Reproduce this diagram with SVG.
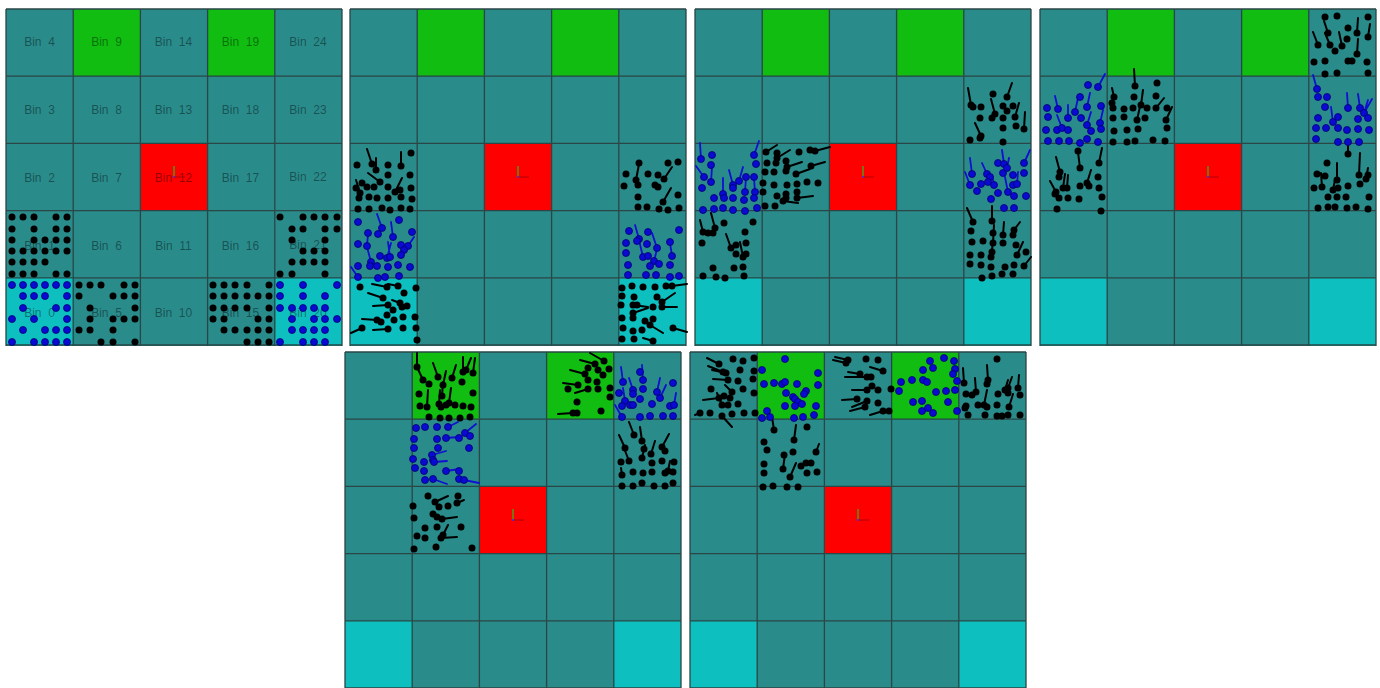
<svg xmlns="http://www.w3.org/2000/svg" xmlns:xlink="http://www.w3.org/1999/xlink" width="1380" height="688" viewBox="0 0 1380 688">
<style>
.bg{fill:#2a8b8b}
.gr{fill:#10bd10}
.rd{fill:#ff0000}
.cy{fill:#0ebfbf}
.grid{fill:none;stroke:#2a4646;stroke-width:1.3}
.k circle{fill:#000}
.b circle{fill:#0a0ad2;stroke:#00006e;stroke-width:.8}
.tk{stroke:#000;stroke-width:2;fill:none;stroke-linecap:round}
.tb{stroke:#1010d0;stroke-width:1.8;fill:none;stroke-linecap:round}
.lbl{font-family:"Liberation Sans",Arial,sans-serif;font-size:12px;fill:#000;fill-opacity:.42;text-anchor:middle;dominant-baseline:central}
</style>
<defs>
<g id="board">
<rect class="bg" x="0" y="0" width="336" height="337"/>
<rect class="gr" x="67.2" y="0" width="67.2" height="67.2"/>
<rect class="gr" x="201.6" y="0" width="67.2" height="67.2"/>
<rect class="rd" x="134.4" y="134.4" width="67.2" height="67.2"/>
<rect class="cy" x="0" y="268.8" width="67.2" height="68.2"/>
<rect class="cy" x="268.8" y="268.8" width="67.2" height="68.2"/>
<path class="grid" d="M0 0V337M67.2 0V337M134.4 0V337M201.6 0V337M268.8 0V337M336 0V337M0 0H336M0 67.2H336M0 134.4H336M0 201.6H336M0 268.8H336M0 336H336"/>
<path d="M168 157V168" stroke="#20c020" stroke-width="1.2"/>
<path d="M168 168H179" stroke="#b00000" stroke-width="1"/>
<circle cx="168" cy="168" r="0.9" fill="#3030ff"/>
</g>
</defs>
<rect width="1380" height="688" fill="#fff"/>

<g id="panel-1">
<use xlink:href="#board" href="#board" transform="translate(6,9)"/>
<g class="lbl">
<text x="39.5" y="42">Bin&#160;&#160;4</text><text x="106.5" y="42">Bin&#160;&#160;9</text><text x="173.5" y="42">Bin&#160;&#160;14</text><text x="240.5" y="42">Bin&#160;&#160;19</text><text x="308" y="42">Bin&#160;&#160;24</text>
<text x="39.5" y="110">Bin&#160;&#160;3</text><text x="106.5" y="110">Bin&#160;&#160;8</text><text x="173.5" y="110">Bin&#160;&#160;13</text><text x="240.5" y="110">Bin&#160;&#160;18</text><text x="308" y="110">Bin&#160;&#160;23</text>
<text x="39.5" y="178">Bin&#160;&#160;2</text><text x="106.5" y="178">Bin&#160;&#160;7</text><text x="173.5" y="178">Bin&#160;&#160;12</text><text x="240.5" y="178">Bin&#160;&#160;17</text><text x="308" y="177">Bin&#160;&#160;22</text>
<text x="39.5" y="245.5">Bin&#160;&#160;1</text><text x="106.5" y="245.5">Bin&#160;&#160;6</text><text x="173.5" y="245.5">Bin&#160;&#160;11</text><text x="240.5" y="245.5">Bin&#160;&#160;16</text><text x="308" y="245">Bin&#160;&#160;21</text>
<text x="39.5" y="313">Bin&#160;&#160;0</text><text x="106.5" y="313">Bin&#160;&#160;5</text><text x="173.5" y="313">Bin&#160;&#160;10</text><text x="240.5" y="313">Bin&#160;&#160;15</text><text x="308" y="313">Bin&#160;&#160;20</text>
</g>
<g class="k">
<circle cx="12" cy="217" r="3.5"/><circle cx="23" cy="217" r="3.5"/><circle cx="34" cy="217" r="3.5"/><circle cx="56" cy="217" r="3.5"/><circle cx="67" cy="217" r="3.5"/>
<circle cx="12" cy="229" r="3.5"/><circle cx="34" cy="229" r="3.5"/><circle cx="56" cy="229" r="3.5"/><circle cx="67" cy="229" r="3.5"/>
<circle cx="12" cy="240" r="3.5"/><circle cx="34" cy="240" r="3.5"/><circle cx="45" cy="240" r="3.5"/><circle cx="56" cy="240" r="3.5"/><circle cx="67" cy="240" r="3.5"/>
<circle cx="12" cy="251" r="3.5"/><circle cx="23" cy="251" r="3.5"/><circle cx="34" cy="251" r="3.5"/><circle cx="45" cy="251" r="3.5"/><circle cx="56" cy="251" r="3.5"/><circle cx="67" cy="251" r="3.5"/>
<circle cx="12" cy="262" r="3.5"/><circle cx="23" cy="262" r="3.5"/><circle cx="34" cy="262" r="3.5"/><circle cx="45" cy="262" r="3.5"/>
<circle cx="12" cy="274" r="3.5"/><circle cx="23" cy="274" r="3.5"/><circle cx="34" cy="274" r="3.5"/><circle cx="56" cy="274" r="3.5"/><circle cx="67" cy="274" r="3.5"/>
<circle cx="79" cy="285" r="3.5"/><circle cx="90" cy="285" r="3.5"/><circle cx="101" cy="285" r="3.5"/><circle cx="124" cy="285" r="3.5"/><circle cx="135" cy="285" r="3.5"/>
<circle cx="79" cy="296" r="3.5"/><circle cx="113" cy="296" r="3.5"/><circle cx="124" cy="296" r="3.5"/><circle cx="135" cy="296" r="3.5"/>
<circle cx="90" cy="308" r="3.5"/><circle cx="135" cy="308" r="3.5"/>
<circle cx="90" cy="319" r="3.5"/><circle cx="113" cy="319" r="3.5"/><circle cx="124" cy="319" r="3.5"/><circle cx="135" cy="319" r="3.5"/>
<circle cx="79" cy="330" r="3.5"/><circle cx="90" cy="330" r="3.5"/><circle cx="113" cy="330" r="3.5"/>
<circle cx="101" cy="342" r="3.5"/><circle cx="113" cy="342" r="3.5"/><circle cx="135" cy="342" r="3.5"/>
<circle cx="213" cy="285" r="3.5"/><circle cx="224" cy="285" r="3.5"/><circle cx="235" cy="285" r="3.5"/><circle cx="247" cy="285" r="3.5"/><circle cx="269" cy="285" r="3.5"/>
<circle cx="213" cy="296" r="3.5"/><circle cx="224" cy="296" r="3.5"/><circle cx="235" cy="296" r="3.5"/><circle cx="247" cy="296" r="3.5"/><circle cx="258" cy="296" r="3.5"/><circle cx="269" cy="296" r="3.5"/>
<circle cx="213" cy="308" r="3.5"/><circle cx="224" cy="308" r="3.5"/><circle cx="235" cy="308" r="3.5"/><circle cx="247" cy="308" r="3.5"/><circle cx="269" cy="308" r="3.5"/>
<circle cx="213" cy="319" r="3.5"/><circle cx="224" cy="319" r="3.5"/><circle cx="258" cy="319" r="3.5"/><circle cx="269" cy="319" r="3.5"/>
<circle cx="224" cy="330" r="3.5"/><circle cx="235" cy="330" r="3.5"/><circle cx="247" cy="330" r="3.5"/><circle cx="258" cy="330" r="3.5"/><circle cx="269" cy="330" r="3.5"/>
<circle cx="247" cy="342" r="3.5"/><circle cx="258" cy="342" r="3.5"/><circle cx="269" cy="342" r="3.5"/>
<circle cx="280" cy="217" r="3.5"/><circle cx="303" cy="217" r="3.5"/><circle cx="314" cy="217" r="3.5"/><circle cx="325" cy="217" r="3.5"/><circle cx="337" cy="217" r="3.5"/>
<circle cx="292" cy="229" r="3.5"/><circle cx="303" cy="229" r="3.5"/><circle cx="325" cy="229" r="3.5"/><circle cx="337" cy="229" r="3.5"/>
<circle cx="292" cy="240" r="3.5"/><circle cx="325" cy="240" r="3.5"/>
<circle cx="303" cy="251" r="3.5"/><circle cx="314" cy="251" r="3.5"/><circle cx="325" cy="251" r="3.5"/>
<circle cx="292" cy="262" r="3.5"/><circle cx="303" cy="262" r="3.5"/><circle cx="314" cy="262" r="3.5"/><circle cx="325" cy="262" r="3.5"/>
<circle cx="280" cy="274" r="3.5"/><circle cx="292" cy="274" r="3.5"/><circle cx="325" cy="274" r="3.5"/>
</g>
<g class="b">
<circle cx="12" cy="285" r="3.5"/><circle cx="23" cy="285" r="3.5"/><circle cx="34" cy="285" r="3.5"/><circle cx="45" cy="285" r="3.5"/><circle cx="56" cy="285" r="3.5"/><circle cx="67" cy="285" r="3.5"/>
<circle cx="23" cy="296" r="3.5"/><circle cx="34" cy="296" r="3.5"/><circle cx="45" cy="296" r="3.5"/><circle cx="67" cy="296" r="3.5"/>
<circle cx="23" cy="308" r="3.5"/><circle cx="56" cy="308" r="3.5"/><circle cx="67" cy="308" r="3.5"/>
<circle cx="12" cy="319" r="3.5"/><circle cx="34" cy="319" r="3.5"/><circle cx="67" cy="319" r="3.5"/>
<circle cx="23" cy="330" r="3.5"/><circle cx="45" cy="330" r="3.5"/><circle cx="56" cy="330" r="3.5"/><circle cx="67" cy="330" r="3.5"/>
<circle cx="12" cy="342" r="3.5"/><circle cx="34" cy="342" r="3.5"/><circle cx="45" cy="342" r="3.5"/><circle cx="56" cy="342" r="3.5"/><circle cx="67" cy="342" r="3.5"/>
<circle cx="280" cy="285" r="3.5"/><circle cx="303" cy="285" r="3.5"/><circle cx="337" cy="285" r="3.5"/>
<circle cx="280" cy="296" r="3.5"/><circle cx="303" cy="296" r="3.5"/><circle cx="325" cy="296" r="3.5"/>
<circle cx="280" cy="308" r="3.5"/><circle cx="292" cy="308" r="3.5"/><circle cx="303" cy="308" r="3.5"/><circle cx="314" cy="308" r="3.5"/><circle cx="325" cy="308" r="3.5"/>
<circle cx="292" cy="319" r="3.5"/><circle cx="314" cy="319" r="3.5"/><circle cx="325" cy="319" r="3.5"/><circle cx="337" cy="319" r="3.5"/>
<circle cx="292" cy="330" r="3.5"/><circle cx="303" cy="330" r="3.5"/><circle cx="314" cy="330" r="3.5"/><circle cx="325" cy="330" r="3.5"/>
<circle cx="280" cy="342" r="3.5"/><circle cx="303" cy="342" r="3.5"/><circle cx="314" cy="342" r="3.5"/><circle cx="325" cy="342" r="3.5"/>
</g>
</g>

<g id="panel-2">
<use xlink:href="#board" href="#board" transform="translate(350,9)"/>
<path class="tk" d="M372 164L367 149M401 166L401 152M376 170L376 158M380 182L368 173M395 192L402 178M360 193L356 180M387 287L372 284M398 286L388 284M383 298L368 293M388 305L373 306M400 303L392 300M377 320L362 319M388 329L373 330M362 328L351 333M636 180L639 164M664 179L672 167M663 202L671 188M672 286L687 284M662 302L675 293M633 305L648 307M662 307L677 307M633 313L648 308M650 325L663 333M673 328L687 332M653 341L643 338"/>
<path class="tb" d="M382 228L377 214M393 237L391 222M408 246L414 237M390 257L388 242M387 258L391 243M371 262L367 247M358 277L351 267M367 246L368 234M639 239L635 225M657 248L652 233M672 256L670 243M643 257L639 240M654 261L657 249"/>
<g class="k">
<circle cx="411" cy="153" r="3.5"/><circle cx="357" cy="165" r="3.5"/><circle cx="372" cy="164" r="3.5"/><circle cx="388" cy="165" r="3.5"/><circle cx="401" cy="166" r="3.5"/><circle cx="376" cy="170" r="3.5"/><circle cx="388" cy="175" r="3.5"/><circle cx="410" cy="175" r="3.5"/><circle cx="380" cy="182" r="3.5"/><circle cx="362" cy="183" r="3.5"/><circle cx="356" cy="188" r="3.5"/><circle cx="367" cy="187" r="3.5"/><circle cx="374" cy="187" r="3.5"/><circle cx="388" cy="187" r="3.5"/><circle cx="395" cy="192" r="3.5"/><circle cx="400" cy="190" r="3.5"/><circle cx="411" cy="188" r="3.5"/><circle cx="359" cy="198" r="3.5"/><circle cx="369" cy="197" r="3.5"/><circle cx="377" cy="198" r="3.5"/><circle cx="388" cy="198" r="3.5"/><circle cx="401" cy="197" r="3.5"/><circle cx="412" cy="199" r="3.5"/><circle cx="358" cy="209" r="3.5"/><circle cx="369" cy="209" r="3.5"/><circle cx="382" cy="208" r="3.5"/><circle cx="390" cy="210" r="3.5"/><circle cx="401" cy="208" r="3.5"/><circle cx="410" cy="209" r="3.5"/><circle cx="360" cy="193" r="3.5"/>
<circle cx="360" cy="287" r="3.5"/><circle cx="387" cy="287" r="3.5"/><circle cx="398" cy="286" r="3.5"/><circle cx="416" cy="288" r="3.5"/><circle cx="404" cy="293" r="3.5"/><circle cx="383" cy="298" r="3.5"/><circle cx="388" cy="305" r="3.5"/><circle cx="400" cy="303" r="3.5"/><circle cx="402" cy="307" r="3.5"/><circle cx="407" cy="306" r="3.5"/><circle cx="393" cy="310" r="3.5"/><circle cx="387" cy="315" r="3.5"/><circle cx="415" cy="317" r="3.5"/><circle cx="403" cy="317" r="3.5"/><circle cx="394" cy="320" r="3.5"/><circle cx="377" cy="320" r="3.5"/><circle cx="381" cy="322" r="3.5"/><circle cx="403" cy="328" r="3.5"/><circle cx="388" cy="329" r="3.5"/><circle cx="416" cy="328" r="3.5"/><circle cx="362" cy="328" r="3.5"/><circle cx="417" cy="340" r="3.5"/>
<circle cx="678" cy="162" r="3.5"/><circle cx="639" cy="163" r="3.5"/><circle cx="668" cy="163" r="3.5"/><circle cx="626" cy="174" r="3.5"/><circle cx="648" cy="174" r="3.5"/><circle cx="658" cy="175" r="3.5"/><circle cx="664" cy="179" r="3.5"/><circle cx="636" cy="180" r="3.5"/><circle cx="624" cy="186" r="3.5"/><circle cx="638" cy="185" r="3.5"/><circle cx="655" cy="185" r="3.5"/><circle cx="658" cy="187" r="3.5"/><circle cx="638" cy="197" r="3.5"/><circle cx="678" cy="195" r="3.5"/><circle cx="663" cy="202" r="3.5"/><circle cx="638" cy="207" r="3.5"/><circle cx="647" cy="207" r="3.5"/><circle cx="659" cy="209" r="3.5"/><circle cx="668" cy="210" r="3.5"/><circle cx="679" cy="208" r="3.5"/>
<circle cx="622" cy="288" r="3.5"/><circle cx="632" cy="286" r="3.5"/><circle cx="643" cy="287" r="3.5"/><circle cx="655" cy="287" r="3.5"/><circle cx="666" cy="286" r="3.5"/><circle cx="672" cy="286" r="3.5"/><circle cx="622" cy="296" r="3.5"/><circle cx="634" cy="297" r="3.5"/><circle cx="657" cy="297" r="3.5"/><circle cx="662" cy="302" r="3.5"/><circle cx="621" cy="305" r="3.5"/><circle cx="633" cy="305" r="3.5"/><circle cx="637" cy="305" r="3.5"/><circle cx="653" cy="307" r="3.5"/><circle cx="662" cy="307" r="3.5"/><circle cx="633" cy="313" r="3.5"/><circle cx="622" cy="318" r="3.5"/><circle cx="633" cy="318" r="3.5"/><circle cx="645" cy="321" r="3.5"/><circle cx="653" cy="319" r="3.5"/><circle cx="623" cy="328" r="3.5"/><circle cx="633" cy="331" r="3.5"/><circle cx="642" cy="330" r="3.5"/><circle cx="650" cy="325" r="3.5"/><circle cx="673" cy="328" r="3.5"/><circle cx="622" cy="339" r="3.5"/><circle cx="634" cy="339" r="3.5"/><circle cx="653" cy="341" r="3.5"/>
</g>
<g class="b">
<circle cx="358" cy="222" r="3.5"/><circle cx="399" cy="220" r="3.5"/><circle cx="382" cy="228" r="3.5"/><circle cx="368" cy="233" r="3.5"/><circle cx="378" cy="234" r="3.5"/><circle cx="393" cy="237" r="3.5"/><circle cx="412" cy="232" r="3.5"/><circle cx="358" cy="244" r="3.5"/><circle cx="367" cy="246" r="3.5"/><circle cx="401" cy="245" r="3.5"/><circle cx="408" cy="246" r="3.5"/><circle cx="404" cy="250" r="3.5"/><circle cx="401" cy="255" r="3.5"/><circle cx="380" cy="256" r="3.5"/><circle cx="387" cy="258" r="3.5"/><circle cx="390" cy="257" r="3.5"/><circle cx="371" cy="262" r="3.5"/><circle cx="358" cy="266" r="3.5"/><circle cx="370" cy="266" r="3.5"/><circle cx="377" cy="266" r="3.5"/><circle cx="388" cy="267" r="3.5"/><circle cx="398" cy="265" r="3.5"/><circle cx="410" cy="267" r="3.5"/><circle cx="358" cy="277" r="3.5"/><circle cx="378" cy="278" r="3.5"/><circle cx="385" cy="277" r="3.5"/><circle cx="399" cy="276" r="3.5"/>
<circle cx="679" cy="230" r="3.5"/><circle cx="629" cy="231" r="3.5"/><circle cx="639" cy="239" r="3.5"/><circle cx="648" cy="232" r="3.5"/><circle cx="637" cy="241" r="3.5"/><circle cx="626" cy="243" r="3.5"/><circle cx="647" cy="244" r="3.5"/><circle cx="657" cy="248" r="3.5"/><circle cx="670" cy="242" r="3.5"/><circle cx="672" cy="256" r="3.5"/><circle cx="626" cy="253" r="3.5"/><circle cx="643" cy="257" r="3.5"/><circle cx="648" cy="256" r="3.5"/><circle cx="654" cy="261" r="3.5"/><circle cx="659" cy="264" r="3.5"/><circle cx="650" cy="266" r="3.5"/><circle cx="628" cy="265" r="3.5"/><circle cx="670" cy="265" r="3.5"/><circle cx="628" cy="275" r="3.5"/><circle cx="646" cy="275" r="3.5"/><circle cx="656" cy="275" r="3.5"/><circle cx="670" cy="277" r="3.5"/><circle cx="679" cy="276" r="3.5"/>
</g>
</g>

<g id="panel-3">
<use xlink:href="#board" href="#board" transform="translate(695,9)"/>
<path class="tk" d="M766 152L777 145M777 158L790 150M815 151L830 147M787 167L802 162M796 174L810 169M811 166L825 162M797 198L813 196M783 201L798 203M703 232L700 220M715 228L711 213M731 248L726 234M743 257L740 242M971 105L968 88M1007 97L1012 83M995 114L991 99M1024 129L1025 112M981 136L975 123M1015 117L1019 103M973 222L967 208M992 221L992 206M1003 235L1004 222M1014 230L1020 222M993 243L994 225M1017 255L1023 242M991 257L993 242M1024 266L1031 257"/>
<path class="tb" d="M701 159L700 143M754 155L759 141M704 177L696 166M711 182L712 167M733 185L729 170M739 181L743 167M745 192L746 177M755 192L754 178M723 194L723 178M1024 163L1030 150M1004 164L1002 150M972 174L970 158M987 174L982 163M1007 168L1009 158M970 185L965 172M994 185L992 175M1008 192L1005 177M1017 184L1018 172"/>
<g class="k">
<circle cx="766" cy="152" r="3.5"/><circle cx="777" cy="153" r="3.5"/><circle cx="777" cy="158" r="3.5"/><circle cx="799" cy="152" r="3.5"/><circle cx="810" cy="150" r="3.5"/><circle cx="815" cy="151" r="3.5"/><circle cx="767" cy="163" r="3.5"/><circle cx="776" cy="163" r="3.5"/><circle cx="786" cy="161" r="3.5"/><circle cx="787" cy="167" r="3.5"/><circle cx="765" cy="172" r="3.5"/><circle cx="774" cy="172" r="3.5"/><circle cx="786" cy="171" r="3.5"/><circle cx="796" cy="174" r="3.5"/><circle cx="811" cy="166" r="3.5"/><circle cx="763" cy="183" r="3.5"/><circle cx="774" cy="185" r="3.5"/><circle cx="787" cy="185" r="3.5"/><circle cx="797" cy="184" r="3.5"/><circle cx="807" cy="182" r="3.5"/><circle cx="818" cy="183" r="3.5"/><circle cx="763" cy="192" r="3.5"/><circle cx="777" cy="196" r="3.5"/><circle cx="786" cy="194" r="3.5"/><circle cx="797" cy="192" r="3.5"/><circle cx="797" cy="198" r="3.5"/><circle cx="786" cy="198" r="3.5"/><circle cx="783" cy="201" r="3.5"/><circle cx="765" cy="206" r="3.5"/><circle cx="775" cy="206" r="3.5"/>
<circle cx="703" cy="232" r="3.5"/><circle cx="708" cy="233" r="3.5"/><circle cx="713" cy="233" r="3.5"/><circle cx="715" cy="228" r="3.5"/><circle cx="724" cy="223" r="3.5"/><circle cx="753" cy="222" r="3.5"/><circle cx="745" cy="232" r="3.5"/><circle cx="702" cy="243" r="3.5"/><circle cx="731" cy="248" r="3.5"/><circle cx="736" cy="245" r="3.5"/><circle cx="746" cy="243" r="3.5"/><circle cx="736" cy="254" r="3.5"/><circle cx="743" cy="257" r="3.5"/><circle cx="746" cy="254" r="3.5"/><circle cx="713" cy="268" r="3.5"/><circle cx="734" cy="268" r="3.5"/><circle cx="743" cy="267" r="3.5"/><circle cx="703" cy="276" r="3.5"/><circle cx="716" cy="277" r="3.5"/><circle cx="725" cy="278" r="3.5"/><circle cx="744" cy="276" r="3.5"/>
<circle cx="971" cy="105" r="3.5"/><circle cx="973" cy="107" r="3.5"/><circle cx="981" cy="107" r="3.5"/><circle cx="993" cy="94" r="3.5"/><circle cx="1007" cy="97" r="3.5"/><circle cx="1003" cy="106" r="3.5"/><circle cx="1013" cy="106" r="3.5"/><circle cx="995" cy="114" r="3.5"/><circle cx="992" cy="118" r="3.5"/><circle cx="1007" cy="111" r="3.5"/><circle cx="1003" cy="118" r="3.5"/><circle cx="980" cy="118" r="3.5"/><circle cx="1015" cy="117" r="3.5"/><circle cx="1024" cy="129" r="3.5"/><circle cx="1016" cy="126" r="3.5"/><circle cx="1003" cy="128" r="3.5"/><circle cx="981" cy="136" r="3.5"/><circle cx="980" cy="138" r="3.5"/><circle cx="970" cy="140" r="3.5"/><circle cx="1003" cy="142" r="3.5"/>
<circle cx="973" cy="222" r="3.5"/><circle cx="992" cy="221" r="3.5"/><circle cx="971" cy="231" r="3.5"/><circle cx="993" cy="233" r="3.5"/><circle cx="1003" cy="235" r="3.5"/><circle cx="1014" cy="230" r="3.5"/><circle cx="1013" cy="235" r="3.5"/><circle cx="972" cy="242" r="3.5"/><circle cx="983" cy="241" r="3.5"/><circle cx="993" cy="243" r="3.5"/><circle cx="1003" cy="243" r="3.5"/><circle cx="1016" cy="245" r="3.5"/><circle cx="1017" cy="255" r="3.5"/><circle cx="1026" cy="252" r="3.5"/><circle cx="970" cy="255" r="3.5"/><circle cx="981" cy="255" r="3.5"/><circle cx="991" cy="257" r="3.5"/><circle cx="992" cy="252" r="3.5"/><circle cx="970" cy="264" r="3.5"/><circle cx="981" cy="265" r="3.5"/><circle cx="991" cy="267" r="3.5"/><circle cx="1005" cy="267" r="3.5"/><circle cx="1014" cy="265" r="3.5"/><circle cx="1024" cy="266" r="3.5"/><circle cx="982" cy="278" r="3.5"/><circle cx="992" cy="276" r="3.5"/><circle cx="1002" cy="274" r="3.5"/><circle cx="1013" cy="274" r="3.5"/>
</g>
<g class="b">
<circle cx="701" cy="159" r="3.5"/><circle cx="712" cy="155" r="3.5"/><circle cx="711" cy="165" r="3.5"/><circle cx="754" cy="155" r="3.5"/><circle cx="756" cy="164" r="3.5"/><circle cx="704" cy="177" r="3.5"/><circle cx="711" cy="182" r="3.5"/><circle cx="733" cy="185" r="3.5"/><circle cx="739" cy="181" r="3.5"/><circle cx="746" cy="177" r="3.5"/><circle cx="754" cy="177" r="3.5"/><circle cx="702" cy="188" r="3.5"/><circle cx="733" cy="188" r="3.5"/><circle cx="745" cy="192" r="3.5"/><circle cx="755" cy="192" r="3.5"/><circle cx="723" cy="194" r="3.5"/><circle cx="714" cy="198" r="3.5"/><circle cx="724" cy="198" r="3.5"/><circle cx="733" cy="198" r="3.5"/><circle cx="744" cy="200" r="3.5"/><circle cx="754" cy="198" r="3.5"/><circle cx="703" cy="210" r="3.5"/><circle cx="714" cy="209" r="3.5"/><circle cx="723" cy="208" r="3.5"/><circle cx="733" cy="210" r="3.5"/><circle cx="745" cy="211" r="3.5"/><circle cx="757" cy="208" r="3.5"/>
<circle cx="998" cy="163" r="3.5"/><circle cx="1024" cy="163" r="3.5"/><circle cx="1004" cy="164" r="3.5"/><circle cx="972" cy="174" r="3.5"/><circle cx="987" cy="174" r="3.5"/><circle cx="990" cy="177" r="3.5"/><circle cx="988" cy="182" r="3.5"/><circle cx="1003" cy="173" r="3.5"/><circle cx="1007" cy="168" r="3.5"/><circle cx="1013" cy="175" r="3.5"/><circle cx="1024" cy="173" r="3.5"/><circle cx="970" cy="185" r="3.5"/><circle cx="977" cy="191" r="3.5"/><circle cx="981" cy="184" r="3.5"/><circle cx="994" cy="185" r="3.5"/><circle cx="998" cy="193" r="3.5"/><circle cx="1008" cy="192" r="3.5"/><circle cx="1013" cy="185" r="3.5"/><circle cx="1017" cy="184" r="3.5"/><circle cx="1014" cy="196" r="3.5"/><circle cx="1026" cy="196" r="3.5"/><circle cx="991" cy="199" r="3.5"/><circle cx="1004" cy="208" r="3.5"/><circle cx="1014" cy="208" r="3.5"/>
</g>
</g>

<g id="panel-4">
<use xlink:href="#board" href="#board" transform="translate(1040,9)"/>
<path class="tk" d="M1135 86L1134 69M1114 97L1112 88M1141 105L1143 90M1156 108L1164 98M1137 120L1141 102M1166 120L1172 107M1080 168L1078 152M1099 163L1102 148M1060 172L1056 157M1087 183L1091 170M1067 188L1068 175M1063 188L1065 174M1056 192L1050 181M1328 33L1324 21M1357 33L1358 18M1368 37L1370 24M1318 45L1313 32M1330 45L1325 33M1342 46L1339 32M1357 54L1358 39M1348 154L1348 143M1322 187L1321 173M1337 180L1337 163M1359 175L1360 153M1366 179L1368 168M1333 190L1335 180"/>
<path class="tb" d="M1098 87L1105 74M1075 112L1078 98M1058 109L1055 96M1068 118L1068 105M1087 107L1090 93M1087 125L1091 112M1100 123L1103 110M1062 128L1057 115M1317 89L1313 75M1348 108L1347 93M1360 108L1358 94M1364 113L1372 99M1333 122L1331 107M1364 113L1368 100"/>
<g class="k">
<circle cx="1135" cy="86" r="3.5"/><circle cx="1157" cy="83" r="3.5"/><circle cx="1114" cy="97" r="3.5"/><circle cx="1134" cy="97" r="3.5"/><circle cx="1156" cy="96" r="3.5"/><circle cx="1112" cy="103" r="3.5"/><circle cx="1113" cy="108" r="3.5"/><circle cx="1124" cy="109" r="3.5"/><circle cx="1133" cy="108" r="3.5"/><circle cx="1141" cy="105" r="3.5"/><circle cx="1147" cy="108" r="3.5"/><circle cx="1156" cy="108" r="3.5"/><circle cx="1167" cy="108" r="3.5"/><circle cx="1113" cy="118" r="3.5"/><circle cx="1124" cy="117" r="3.5"/><circle cx="1137" cy="120" r="3.5"/><circle cx="1145" cy="118" r="3.5"/><circle cx="1166" cy="120" r="3.5"/><circle cx="1114" cy="131" r="3.5"/><circle cx="1127" cy="130" r="3.5"/><circle cx="1138" cy="129" r="3.5"/><circle cx="1167" cy="128" r="3.5"/><circle cx="1113" cy="142" r="3.5"/><circle cx="1127" cy="142" r="3.5"/><circle cx="1135" cy="141" r="3.5"/><circle cx="1153" cy="140" r="3.5"/><circle cx="1165" cy="141" r="3.5"/>
<circle cx="1078" cy="151" r="3.5"/><circle cx="1080" cy="168" r="3.5"/><circle cx="1099" cy="163" r="3.5"/><circle cx="1060" cy="172" r="3.5"/><circle cx="1059" cy="177" r="3.5"/><circle cx="1098" cy="177" r="3.5"/><circle cx="1087" cy="183" r="3.5"/><circle cx="1089" cy="186" r="3.5"/><circle cx="1080" cy="186" r="3.5"/><circle cx="1067" cy="188" r="3.5"/><circle cx="1063" cy="188" r="3.5"/><circle cx="1056" cy="192" r="3.5"/><circle cx="1055" cy="194" r="3.5"/><circle cx="1099" cy="188" r="3.5"/><circle cx="1059" cy="198" r="3.5"/><circle cx="1068" cy="198" r="3.5"/><circle cx="1079" cy="199" r="3.5"/><circle cx="1102" cy="197" r="3.5"/><circle cx="1057" cy="209" r="3.5"/><circle cx="1101" cy="211" r="3.5"/>
<circle cx="1325" cy="17" r="3.5"/><circle cx="1337" cy="16" r="3.5"/><circle cx="1368" cy="17" r="3.5"/><circle cx="1328" cy="33" r="3.5"/><circle cx="1348" cy="28" r="3.5"/><circle cx="1357" cy="33" r="3.5"/><circle cx="1368" cy="37" r="3.5"/><circle cx="1318" cy="45" r="3.5"/><circle cx="1330" cy="45" r="3.5"/><circle cx="1342" cy="46" r="3.5"/><circle cx="1347" cy="39" r="3.5"/><circle cx="1335" cy="51" r="3.5"/><circle cx="1357" cy="54" r="3.5"/><circle cx="1314" cy="62" r="3.5"/><circle cx="1325" cy="61" r="3.5"/><circle cx="1348" cy="61" r="3.5"/><circle cx="1352" cy="61" r="3.5"/><circle cx="1367" cy="62" r="3.5"/><circle cx="1325" cy="74" r="3.5"/><circle cx="1337" cy="73" r="3.5"/><circle cx="1368" cy="73" r="3.5"/>
<circle cx="1348" cy="154" r="3.5"/><circle cx="1327" cy="163" r="3.5"/><circle cx="1317" cy="174" r="3.5"/><circle cx="1325" cy="176" r="3.5"/><circle cx="1322" cy="187" r="3.5"/><circle cx="1337" cy="180" r="3.5"/><circle cx="1348" cy="186" r="3.5"/><circle cx="1359" cy="175" r="3.5"/><circle cx="1360" cy="184" r="3.5"/><circle cx="1366" cy="179" r="3.5"/><circle cx="1368" cy="175" r="3.5"/><circle cx="1314" cy="188" r="3.5"/><circle cx="1333" cy="190" r="3.5"/><circle cx="1338" cy="188" r="3.5"/><circle cx="1328" cy="197" r="3.5"/><circle cx="1337" cy="197" r="3.5"/><circle cx="1346" cy="197" r="3.5"/><circle cx="1369" cy="197" r="3.5"/><circle cx="1318" cy="208" r="3.5"/><circle cx="1328" cy="207" r="3.5"/><circle cx="1335" cy="207" r="3.5"/><circle cx="1347" cy="208" r="3.5"/><circle cx="1356" cy="207" r="3.5"/><circle cx="1368" cy="209" r="3.5"/>
</g>
<g class="b">
<circle cx="1088" cy="85" r="3.5"/><circle cx="1098" cy="87" r="3.5"/><circle cx="1080" cy="97" r="3.5"/><circle cx="1075" cy="112" r="3.5"/><circle cx="1047" cy="108" r="3.5"/><circle cx="1058" cy="109" r="3.5"/><circle cx="1068" cy="118" r="3.5"/><circle cx="1087" cy="107" r="3.5"/><circle cx="1101" cy="106" r="3.5"/><circle cx="1048" cy="117" r="3.5"/><circle cx="1081" cy="118" r="3.5"/><circle cx="1087" cy="125" r="3.5"/><circle cx="1100" cy="123" r="3.5"/><circle cx="1046" cy="130" r="3.5"/><circle cx="1057" cy="130" r="3.5"/><circle cx="1062" cy="128" r="3.5"/><circle cx="1068" cy="130" r="3.5"/><circle cx="1091" cy="131" r="3.5"/><circle cx="1101" cy="129" r="3.5"/><circle cx="1048" cy="141" r="3.5"/><circle cx="1059" cy="141" r="3.5"/><circle cx="1069" cy="141" r="3.5"/><circle cx="1080" cy="143" r="3.5"/><circle cx="1087" cy="139" r="3.5"/><circle cx="1098" cy="142" r="3.5"/>
<circle cx="1317" cy="89" r="3.5"/><circle cx="1318" cy="97" r="3.5"/><circle cx="1327" cy="97" r="3.5"/><circle cx="1325" cy="107" r="3.5"/><circle cx="1348" cy="108" r="3.5"/><circle cx="1360" cy="108" r="3.5"/><circle cx="1364" cy="113" r="3.5"/><circle cx="1318" cy="118" r="3.5"/><circle cx="1333" cy="122" r="3.5"/><circle cx="1338" cy="117" r="3.5"/><circle cx="1358" cy="119" r="3.5"/><circle cx="1368" cy="118" r="3.5"/><circle cx="1316" cy="128" r="3.5"/><circle cx="1326" cy="128" r="3.5"/><circle cx="1338" cy="128" r="3.5"/><circle cx="1347" cy="130" r="3.5"/><circle cx="1358" cy="129" r="3.5"/><circle cx="1369" cy="130" r="3.5"/><circle cx="1316" cy="139" r="3.5"/><circle cx="1338" cy="142" r="3.5"/><circle cx="1348" cy="142" r="3.5"/><circle cx="1359" cy="142" r="3.5"/>
</g>
</g>

<g id="panel-5">
<use xlink:href="#board" href="#board" transform="translate(345,352)"/>
<path class="tk" d="M417 367L417 353M423 380L417 367M438 377L433 363M443 385L446 371M452 378L456 365M463 372L463 357M466 370L471 358M473 373L475 358M427 407L428 390M439 404L440 390M442 396L443 382M449 403L451 388M604 361L590 353M595 364L580 360M585 374L570 370M578 385L563 383M588 389L575 393M573 413L558 414M435 502L448 496M457 503L464 500M442 519L457 517M441 538L457 537M443 535L448 525M634 435L629 422M642 441L640 427M625 448L619 435M662 447L669 434M651 454L655 441M629 461L624 448M642 458L645 445M668 471L670 461M622 475L621 468"/>
<path class="tb" d="M623 382L621 367M643 380L642 365M633 390L629 378M657 392L660 378M660 398L666 385M625 401L623 388M674 405L676 393M622 417L615 405M448 427L458 422M465 433L476 424M446 438L459 437M432 455L446 451M434 462L447 461M446 471L460 469M433 479L447 484M464 480L479 483"/>
<g class="k">
<circle cx="417" cy="367" r="3.5"/><circle cx="423" cy="380" r="3.5"/><circle cx="429" cy="384" r="3.5"/><circle cx="438" cy="377" r="3.5"/><circle cx="443" cy="385" r="3.5"/><circle cx="452" cy="378" r="3.5"/><circle cx="462" cy="382" r="3.5"/><circle cx="463" cy="372" r="3.5"/><circle cx="466" cy="370" r="3.5"/><circle cx="473" cy="373" r="3.5"/><circle cx="473" cy="393" r="3.5"/><circle cx="419" cy="394" r="3.5"/><circle cx="427" cy="407" r="3.5"/><circle cx="420" cy="406" r="3.5"/><circle cx="439" cy="404" r="3.5"/><circle cx="442" cy="396" r="3.5"/><circle cx="449" cy="403" r="3.5"/><circle cx="441" cy="407" r="3.5"/><circle cx="446" cy="405" r="3.5"/><circle cx="455" cy="405" r="3.5"/><circle cx="463" cy="406" r="3.5"/><circle cx="471" cy="407" r="3.5"/><circle cx="429" cy="417" r="3.5"/><circle cx="440" cy="418" r="3.5"/><circle cx="449" cy="418" r="3.5"/><circle cx="460" cy="418" r="3.5"/><circle cx="470" cy="417" r="3.5"/>
<circle cx="604" cy="361" r="3.5"/><circle cx="595" cy="364" r="3.5"/><circle cx="588" cy="368" r="3.5"/><circle cx="598" cy="370" r="3.5"/><circle cx="609" cy="369" r="3.5"/><circle cx="585" cy="374" r="3.5"/><circle cx="603" cy="375" r="3.5"/><circle cx="588" cy="380" r="3.5"/><circle cx="597" cy="382" r="3.5"/><circle cx="578" cy="385" r="3.5"/><circle cx="568" cy="389" r="3.5"/><circle cx="588" cy="389" r="3.5"/><circle cx="598" cy="389" r="3.5"/><circle cx="610" cy="388" r="3.5"/><circle cx="610" cy="397" r="3.5"/><circle cx="577" cy="402" r="3.5"/><circle cx="573" cy="413" r="3.5"/><circle cx="577" cy="413" r="3.5"/><circle cx="601" cy="411" r="3.5"/>
<circle cx="428" cy="496" r="3.5"/><circle cx="458" cy="496" r="3.5"/><circle cx="435" cy="502" r="3.5"/><circle cx="439" cy="507" r="3.5"/><circle cx="448" cy="506" r="3.5"/><circle cx="457" cy="503" r="3.5"/><circle cx="413" cy="506" r="3.5"/><circle cx="433" cy="514" r="3.5"/><circle cx="437" cy="517" r="3.5"/><circle cx="442" cy="519" r="3.5"/><circle cx="414" cy="518" r="3.5"/><circle cx="437" cy="527" r="3.5"/><circle cx="461" cy="527" r="3.5"/><circle cx="425" cy="528" r="3.5"/><circle cx="417" cy="536" r="3.5"/><circle cx="425" cy="538" r="3.5"/><circle cx="441" cy="538" r="3.5"/><circle cx="443" cy="535" r="3.5"/><circle cx="414" cy="549" r="3.5"/><circle cx="436" cy="547" r="3.5"/><circle cx="472" cy="548" r="3.5"/>
<circle cx="634" cy="435" r="3.5"/><circle cx="642" cy="441" r="3.5"/><circle cx="625" cy="448" r="3.5"/><circle cx="644" cy="449" r="3.5"/><circle cx="662" cy="447" r="3.5"/><circle cx="665" cy="451" r="3.5"/><circle cx="651" cy="454" r="3.5"/><circle cx="629" cy="461" r="3.5"/><circle cx="621" cy="462" r="3.5"/><circle cx="642" cy="458" r="3.5"/><circle cx="652" cy="463" r="3.5"/><circle cx="662" cy="461" r="3.5"/><circle cx="674" cy="462" r="3.5"/><circle cx="622" cy="475" r="3.5"/><circle cx="633" cy="472" r="3.5"/><circle cx="643" cy="473" r="3.5"/><circle cx="652" cy="472" r="3.5"/><circle cx="665" cy="473" r="3.5"/><circle cx="668" cy="471" r="3.5"/><circle cx="673" cy="472" r="3.5"/><circle cx="622" cy="486" r="3.5"/><circle cx="633" cy="486" r="3.5"/><circle cx="642" cy="483" r="3.5"/><circle cx="654" cy="486" r="3.5"/><circle cx="665" cy="486" r="3.5"/><circle cx="673" cy="483" r="3.5"/>
</g>
<g class="b">
<circle cx="640" cy="372" r="3.5"/><circle cx="623" cy="382" r="3.5"/><circle cx="643" cy="380" r="3.5"/><circle cx="633" cy="390" r="3.5"/><circle cx="643" cy="389" r="3.5"/><circle cx="657" cy="392" r="3.5"/><circle cx="673" cy="383" r="3.5"/><circle cx="619" cy="393" r="3.5"/><circle cx="633" cy="394" r="3.5"/><circle cx="640" cy="399" r="3.5"/><circle cx="660" cy="398" r="3.5"/><circle cx="625" cy="401" r="3.5"/><circle cx="630" cy="405" r="3.5"/><circle cx="622" cy="406" r="3.5"/><circle cx="633" cy="405" r="3.5"/><circle cx="652" cy="404" r="3.5"/><circle cx="670" cy="406" r="3.5"/><circle cx="674" cy="405" r="3.5"/><circle cx="622" cy="417" r="3.5"/><circle cx="640" cy="417" r="3.5"/><circle cx="650" cy="416" r="3.5"/><circle cx="663" cy="416" r="3.5"/><circle cx="673" cy="416" r="3.5"/>
<circle cx="416" cy="428" r="3.5"/><circle cx="425" cy="427" r="3.5"/><circle cx="437" cy="427" r="3.5"/><circle cx="448" cy="427" r="3.5"/><circle cx="465" cy="433" r="3.5"/><circle cx="470" cy="436" r="3.5"/><circle cx="414" cy="439" r="3.5"/><circle cx="437" cy="439" r="3.5"/><circle cx="446" cy="438" r="3.5"/><circle cx="459" cy="438" r="3.5"/><circle cx="414" cy="448" r="3.5"/><circle cx="438" cy="448" r="3.5"/><circle cx="469" cy="448" r="3.5"/><circle cx="432" cy="455" r="3.5"/><circle cx="413" cy="459" r="3.5"/><circle cx="424" cy="462" r="3.5"/><circle cx="433" cy="460" r="3.5"/><circle cx="434" cy="462" r="3.5"/><circle cx="415" cy="468" r="3.5"/><circle cx="424" cy="471" r="3.5"/><circle cx="446" cy="471" r="3.5"/><circle cx="459" cy="471" r="3.5"/><circle cx="425" cy="480" r="3.5"/><circle cx="433" cy="479" r="3.5"/><circle cx="459" cy="479" r="3.5"/><circle cx="464" cy="480" r="3.5"/>
</g>
</g>

<g id="panel-6">
<use xlink:href="#board" href="#board" transform="translate(690,352)"/>
<path class="tk" d="M719 364L707 358M723 372L708 366M726 373L712 370M728 380L713 379M732 392L725 385M719 398L703 400M722 405L717 393M700 413L695 415M722 416L732 427M848 360L835 357M846 363L833 360M883 371L870 367M867 377L845 377M867 390L852 390M857 399L842 400M867 401L852 407M865 407L850 411M883 411L870 415M860 374L848 372M988 380L987 365M964 383L963 368M1008 388L1012 377M1018 388L1019 375M1005 390L1008 380M976 392L975 378M984 405L987 390M1009 407L1013 394M774 430L772 417M794 440L796 425M783 469L785 454M790 477L796 463M816 452L819 444"/>
<g class="k">
<circle cx="733" cy="359" r="3.5"/><circle cx="743" cy="361" r="3.5"/><circle cx="754" cy="358" r="3.5"/><circle cx="719" cy="364" r="3.5"/><circle cx="723" cy="372" r="3.5"/><circle cx="726" cy="373" r="3.5"/><circle cx="740" cy="370" r="3.5"/><circle cx="754" cy="371" r="3.5"/><circle cx="728" cy="380" r="3.5"/><circle cx="738" cy="381" r="3.5"/><circle cx="753" cy="379" r="3.5"/><circle cx="711" cy="389" r="3.5"/><circle cx="743" cy="389" r="3.5"/><circle cx="732" cy="392" r="3.5"/><circle cx="754" cy="393" r="3.5"/><circle cx="719" cy="398" r="3.5"/><circle cx="724" cy="396" r="3.5"/><circle cx="730" cy="398" r="3.5"/><circle cx="738" cy="404" r="3.5"/><circle cx="722" cy="405" r="3.5"/><circle cx="728" cy="405" r="3.5"/><circle cx="700" cy="413" r="3.5"/><circle cx="710" cy="413" r="3.5"/><circle cx="722" cy="416" r="3.5"/><circle cx="732" cy="414" r="3.5"/><circle cx="744" cy="413" r="3.5"/><circle cx="755" cy="413" r="3.5"/>
<circle cx="866" cy="359" r="3.5"/><circle cx="878" cy="360" r="3.5"/><circle cx="848" cy="360" r="3.5"/><circle cx="846" cy="363" r="3.5"/><circle cx="883" cy="371" r="3.5"/><circle cx="860" cy="374" r="3.5"/><circle cx="867" cy="377" r="3.5"/><circle cx="871" cy="377" r="3.5"/><circle cx="872" cy="386" r="3.5"/><circle cx="878" cy="390" r="3.5"/><circle cx="867" cy="390" r="3.5"/><circle cx="891" cy="389" r="3.5"/><circle cx="857" cy="399" r="3.5"/><circle cx="867" cy="401" r="3.5"/><circle cx="865" cy="407" r="3.5"/><circle cx="878" cy="403" r="3.5"/><circle cx="883" cy="411" r="3.5"/><circle cx="889" cy="411" r="3.5"/>
<circle cx="997" cy="359" r="3.5"/><circle cx="988" cy="380" r="3.5"/><circle cx="987" cy="384" r="3.5"/><circle cx="964" cy="383" r="3.5"/><circle cx="1008" cy="388" r="3.5"/><circle cx="1018" cy="388" r="3.5"/><circle cx="1005" cy="390" r="3.5"/><circle cx="966" cy="394" r="3.5"/><circle cx="972" cy="395" r="3.5"/><circle cx="976" cy="392" r="3.5"/><circle cx="998" cy="394" r="3.5"/><circle cx="1008" cy="393" r="3.5"/><circle cx="1020" cy="395" r="3.5"/><circle cx="966" cy="406" r="3.5"/><circle cx="978" cy="405" r="3.5"/><circle cx="984" cy="405" r="3.5"/><circle cx="987" cy="407" r="3.5"/><circle cx="997" cy="405" r="3.5"/><circle cx="1009" cy="407" r="3.5"/><circle cx="965" cy="408" r="3.5"/><circle cx="968" cy="415" r="3.5"/><circle cx="985" cy="415" r="3.5"/><circle cx="997" cy="416" r="3.5"/><circle cx="1002" cy="416" r="3.5"/><circle cx="1008" cy="415" r="3.5"/><circle cx="1020" cy="415" r="3.5"/>
<circle cx="774" cy="430" r="3.5"/><circle cx="807" cy="427" r="3.5"/><circle cx="764" cy="442" r="3.5"/><circle cx="794" cy="440" r="3.5"/><circle cx="767" cy="450" r="3.5"/><circle cx="793" cy="452" r="3.5"/><circle cx="816" cy="452" r="3.5"/><circle cx="784" cy="455" r="3.5"/><circle cx="764" cy="464" r="3.5"/><circle cx="783" cy="469" r="3.5"/><circle cx="801" cy="466" r="3.5"/><circle cx="806" cy="463" r="3.5"/><circle cx="811" cy="463" r="3.5"/><circle cx="790" cy="477" r="3.5"/><circle cx="764" cy="473" r="3.5"/><circle cx="807" cy="473" r="3.5"/><circle cx="817" cy="472" r="3.5"/><circle cx="763" cy="487" r="3.5"/><circle cx="773" cy="486" r="3.5"/><circle cx="787" cy="487" r="3.5"/><circle cx="798" cy="487" r="3.5"/>
</g>
<g class="b">
<circle cx="785" cy="359" r="3.5"/><circle cx="762" cy="370" r="3.5"/><circle cx="818" cy="373" r="3.5"/><circle cx="764" cy="384" r="3.5"/><circle cx="774" cy="383" r="3.5"/><circle cx="782" cy="384" r="3.5"/><circle cx="785" cy="382" r="3.5"/><circle cx="797" cy="384" r="3.5"/><circle cx="818" cy="385" r="3.5"/><circle cx="806" cy="391" r="3.5"/><circle cx="786" cy="393" r="3.5"/><circle cx="804" cy="394" r="3.5"/><circle cx="793" cy="397" r="3.5"/><circle cx="795" cy="399" r="3.5"/><circle cx="798" cy="402" r="3.5"/><circle cx="802" cy="404" r="3.5"/><circle cx="795" cy="406" r="3.5"/><circle cx="785" cy="406" r="3.5"/><circle cx="816" cy="406" r="3.5"/><circle cx="767" cy="411" r="3.5"/><circle cx="762" cy="418" r="3.5"/><circle cx="770" cy="417" r="3.5"/><circle cx="794" cy="418" r="3.5"/><circle cx="803" cy="417" r="3.5"/><circle cx="814" cy="415" r="3.5"/>
<circle cx="944" cy="358" r="3.5"/><circle cx="954" cy="361" r="3.5"/><circle cx="930" cy="361" r="3.5"/><circle cx="923" cy="370" r="3.5"/><circle cx="933" cy="368" r="3.5"/><circle cx="955" cy="369" r="3.5"/><circle cx="901" cy="382" r="3.5"/><circle cx="912" cy="380" r="3.5"/><circle cx="923" cy="380" r="3.5"/><circle cx="927" cy="382" r="3.5"/><circle cx="953" cy="374" r="3.5"/><circle cx="957" cy="381" r="3.5"/><circle cx="899" cy="391" r="3.5"/><circle cx="936" cy="392" r="3.5"/><circle cx="946" cy="391" r="3.5"/><circle cx="955" cy="390" r="3.5"/><circle cx="913" cy="402" r="3.5"/><circle cx="922" cy="401" r="3.5"/><circle cx="948" cy="402" r="3.5"/><circle cx="922" cy="411" r="3.5"/><circle cx="928" cy="408" r="3.5"/><circle cx="933" cy="413" r="3.5"/><circle cx="957" cy="411" r="3.5"/>
</g>
</g>
</svg>
